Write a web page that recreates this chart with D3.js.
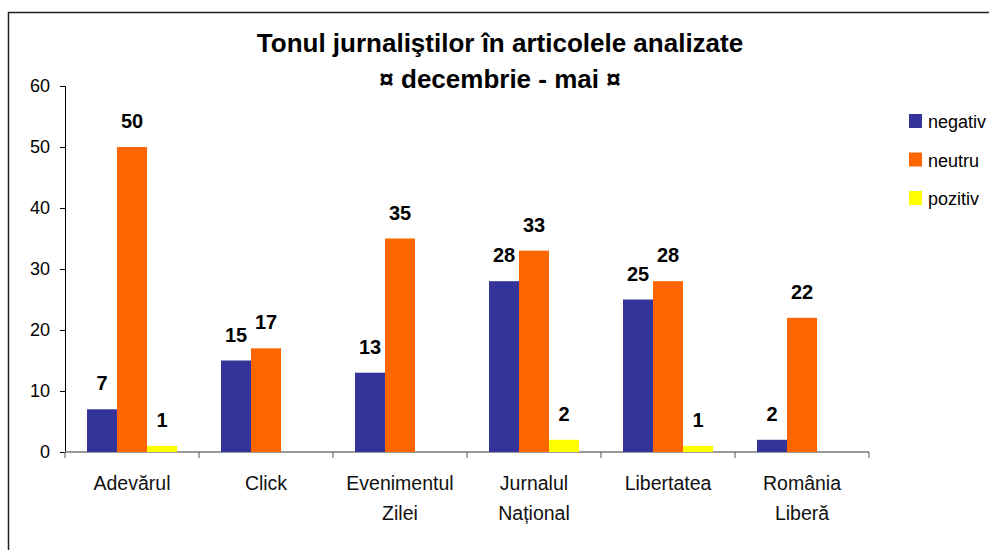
<!DOCTYPE html>
<html lang="ro">
<head>
<meta charset="utf-8">
<script src="https://d3js.org/d3.v7.min.js"></script>
<style>
  body { margin: 0; background: #fff; }
  svg { display: block; font-family: "Liberation Sans", Arial, sans-serif; }
</style>
</head>
<body>
<div id="chart"></div>
<script>
"use strict"

// datele graficului
var ziare = [["Adevărul"], ["Click"], ["Evenimentul", "Zilei"], ["Jurnalul", "Național"], ["Libertatea"], ["România", "Liberă"]];
var serii = ["negativ", "neutru", "pozitiv"];
var negativ = [7, 15, 13, 28, 25, 2];
var neutru = [50, 17, 35, 33, 28, 22];
var pozitiv = [1, 0, 0, 2, 1, 0];
var cori = ["#333399", "#FF6600", "#FFFF00"];
var ticks = [0, 10, 20, 30, 40, 50, 60];

var valori = [negativ, neutru, pozitiv];

var larguraSVG = 989, alturaSVG = 550;

var svg = d3.select("#chart").append("svg")
  .attr("width", larguraSVG)
  .attr("height", alturaSVG);

// chenarul
svg.append("rect")
  .attr("x", 8.5).attr("y", 12.5)
  .attr("width", 1100).attr("height", 700)
  .attr("fill", "none")
  .attr("stroke", "#222")
  .attr("stroke-width", 1.5);

var nume = ziare.map(d => d.join(" "));

var x = d3.scaleBand()
  .domain(nume)
  .range([65, 869]);

var x1 = d3.scaleBand()
  .domain(serii)
  .range([22, x.bandwidth() - 22]);

var y = d3.scaleLinear()
  .domain([0, 60])
  .range([452, 86]);

// axa y
var axaY = svg.append("g")
  .attr("transform", "translate(65,0)")
  .call(d3.axisLeft(y).tickValues(ticks).tickSize(5).tickPadding(10).tickFormat(d3.format("d")));
axaY.select(".domain").attr("stroke", "#000");
axaY.selectAll(".tick line").attr("stroke", "#000");
axaY.selectAll("text").attr("font-size", "18px").attr("font-family", "Liberation Sans, Arial, sans-serif").attr("fill", "#000");

// axa x
var axaX = svg.append("g")
  .attr("transform", "translate(0,452)");
axaX.append("line")
  .attr("x1", x.range()[0]).attr("x2", x.range()[1])
  .attr("stroke", "#777").attr("stroke-width", 1.5);
axaX.selectAll("line.tick")
  .data(nume.map(d => x(d)).concat([x.range()[1]]))
  .enter().append("line")
  .attr("class", "tick")
  .attr("x1", d => d)
  .attr("x2", d => d)
  .attr("y1", 0).attr("y2", 6)
  .attr("stroke", "#555");

// barele
serii.forEach(function(s, si) {
  var dateSerie = valori[si].map((v, i) => ({v: v, nume: nume[i]}));
  var g = svg.append("g").attr("class", "serie-" + s);
  g.selectAll("rect")
    .data(dateSerie)
    .enter().append("rect")
    .attr("x", d => x(d.nume) + x1(s))
    .attr("y", d => y(d.v))
    .attr("width", x1.bandwidth())
    .attr("height", d => y(0) - y(d.v))
    .attr("fill", cori[si]);

  g.selectAll("text")
    .data(dateSerie.filter(d => d.v > 0))
    .enter().append("text")
    .attr("x", d => x(d.nume) + x1(s) + x1.bandwidth() / 2)
    .attr("y", d => y(d.v) - 19)
    .attr("text-anchor", "middle")
    .attr("font-weight", "bold")
    .attr("font-size", "20px")
    .text(d => d.v);
});

// etichetele categoriilor
ziare.forEach(function(linii, i) {
  var t = svg.append("text")
    .attr("text-anchor", "middle")
    .attr("font-size", "19.5px")
    .attr("fill", "#111");
  linii.forEach(function(l, j) {
    t.append("tspan")
      .attr("x", x(nume[i]) + x.bandwidth() / 2)
      .attr("y", 490 + j * 30)
      .text(l);
  });
});

// titlul
svg.append("text")
  .attr("x", 500).attr("y", 52)
  .attr("text-anchor", "middle")
  .attr("font-weight", "bold")
  .attr("font-size", "26px")
  .text("Tonul jurnaliştilor în articolele analizate");
svg.append("text")
  .attr("x", 500).attr("y", 88)
  .attr("text-anchor", "middle")
  .attr("font-weight", "bold")
  .attr("font-size", "26px")
  .text("¤ decembrie - mai ¤");

// legenda
var leg = svg.append("g");
serii.forEach(function(s, i) {
  leg.append("rect")
    .attr("x", 909).attr("y", 114 + i * 38.5)
    .attr("width", 13).attr("height", 14)
    .attr("fill", cori[i]);
  leg.append("text")
    .attr("x", 928).attr("y", 128 + i * 38.5)
    .attr("font-size", "18px")
    .text(s);
});
</script>
</body>
</html>
